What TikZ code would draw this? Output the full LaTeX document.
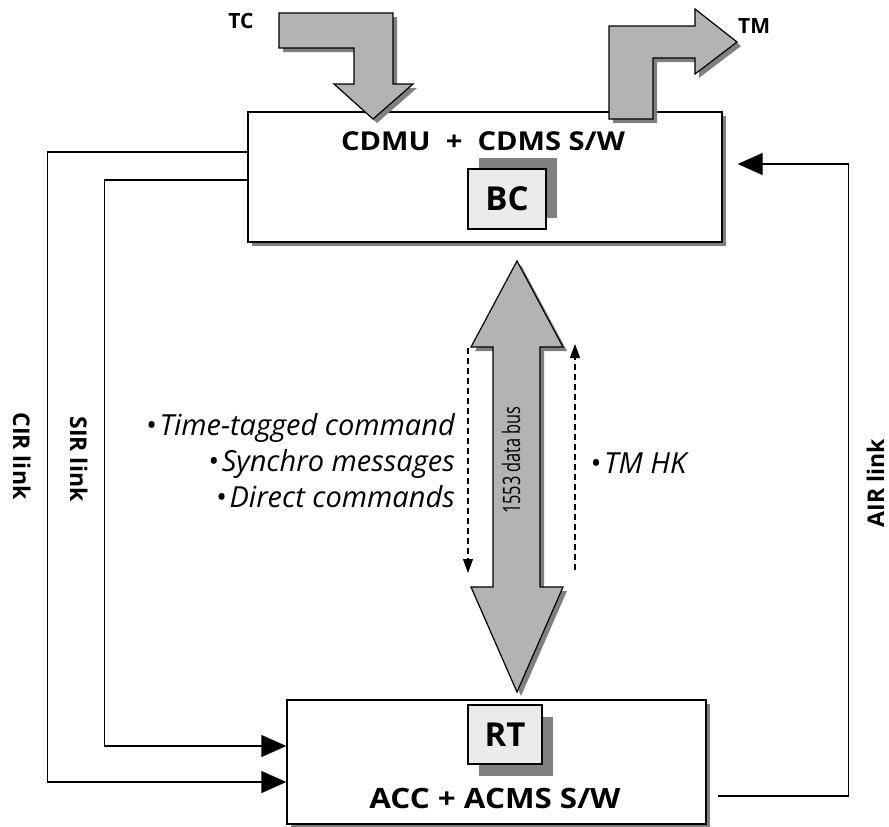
\documentclass[tikz,border=0pt]{standalone}
\usepackage{fontspec}
\setmainfont{Open Sans}
\newfontfamily\widefont{Open Sans}[FakeStretch=1.12]
\newfontfamily\narrowfont{Open Sans}[FakeStretch=0.68]
\usepackage{tikz}
\usetikzlibrary{arrows.meta, positioning, shadows}
\definecolor{arrowgray}{RGB}{179,179,179}
\definecolor{shadowgray}{RGB}{128,128,128}
\definecolor{chipgray}{RGB}{235,235,235}

\begin{document}
\begin{tikzpicture}[x=1pt, y=-1pt,
  sysbox/.style={draw, line width=1.4pt, fill=white, drop shadow={shadow xshift=4pt, shadow yshift=-4pt, fill=shadowgray, opacity=1}},
  chip/.style={draw, line width=1.2pt, fill=chipgray, inner sep=0pt, font=\fontsize{33}{40}\selectfont\bfseries,
    drop shadow={shadow xshift=11pt, shadow yshift=#1, fill=shadowgray, opacity=1}},
  title/.style={inner sep=0pt, font=\widefont\fontsize{26}{31}\selectfont\bfseries},
  tagtext/.style={inner sep=0pt, font=\fontsize{21}{25}\selectfont\bfseries},
  linktext/.style={inner sep=0pt, font=\fontsize{23}{27}\selectfont\bfseries},
  itemtext/.style={inner sep=0pt, font=\fontsize{29}{34}\selectfont\itshape},
  bustext/.style={inner sep=0pt, font=\narrowfont\fontsize{24}{28}\selectfont},
  flow/.style={draw, line width=1.2pt, fill=arrowgray, drop shadow={shadow xshift=4pt, shadow yshift=-4pt, fill=shadowgray, opacity=1}},
  dataflow/.style={line width=1.2pt, dash pattern=on 6pt off 4pt, -{Triangle[length=14pt, width=10pt]}},
  linkarrow/.style={line width=1.4pt, -{Triangle[length=25pt, width=22pt]}},
]
  \useasboundingbox (0,0) rectangle (889,827);

  \node[sysbox, minimum width=474, minimum height=130] (cdmu) at (485,177) {};
  \node[title, anchor=base] (cdmutitle) at (483,150) {CDMU\ \ +\ \ CDMS S/W};
  \node[chip=11pt, minimum width=78, minimum height=60] (bc) at (507,199) {BC};

  \node[sysbox, minimum width=419, minimum height=124] (acc) at (496.5,762) {};
  \node[chip=-12pt, minimum width=74, minimum height=59] (rt) at (505,734.5) {RT};
  \node[title, font=\widefont\fontsize{28}{33}\selectfont\bfseries, anchor=base] (acctitle) at (495,808) {ACC\ +\ ACMS S/W};

  % TC in, TM out
  \draw[flow] (279,13) -- (393,13) -- (393,84) -- (413,84) -- (373,119) -- (334,84) -- (354,84) -- (354,48) -- (279,48) -- cycle;
  \draw[flow] (609,119) -- (609,26) -- (695,26) -- (695,9) -- (737,42) -- (695,74) -- (695,58) -- (653,58) -- (653,119) -- cycle;
  \node[tagtext, anchor=base] (tc) at (241,28) {TC};
  \node[tagtext, anchor=base west] (tm) at (738,33) {TM};

  % 1553 bus
  \draw[flow] (517,261) -- (563,347) -- (540,347) -- (540,587) -- (563,587) -- (517,692) -- (471,587) -- (493,587) -- (493,347) -- (471,347) -- cycle;
  \node[bustext, rotate=90, anchor=base] (bus) at (520,460) {1553 data bus};

  \coordinate (cmdtop) at (468,348);
  \coordinate (cmdend) at (468,573);
  \coordinate (hkstart) at (575,570);
  \coordinate (hktop) at (575,344);
  \draw[dataflow] (cmdtop) -- (cmdend);
  \draw[dataflow] (hkstart) -- (hktop);

  \node[itemtext, anchor=base east] (ttc) at (455,435) {•\hspace{3pt}Time-tagged command};
  \node[itemtext, anchor=base east] (sync) at (455,471) {•\hspace{3pt}Synchro messages};
  \node[itemtext, anchor=base east] (direct) at (455,507) {•\hspace{3pt}Direct commands};
  \node[itemtext, anchor=base west] (tmhk) at (590,473) {•\hspace{3pt}TM HK};

  % discrete links
  \draw[linkarrow] ([yshift=25pt]cdmu.west) -- ++(-200,0) |- ([yshift=-20pt]acc.west);
  \draw[linkarrow] ([yshift=-3pt]cdmu.west) -- ++(-143,0) |- ([yshift=16pt]acc.west);
  \draw[linkarrow] ([xshift=11pt, yshift=-34pt]acc.east) -- ++(131,0) |- ([xshift=15pt, yshift=13pt]cdmu.east);
  \node[linktext, rotate=-90, anchor=base] (cirtext) at (13,456) {CIR link};
  \node[linktext, rotate=-90, anchor=base] (sirtext) at (70,459) {SIR link};
  \node[linktext, rotate=90, anchor=base] (airtext) at (884,483) {AIR link};
\end{tikzpicture}
\end{document}
